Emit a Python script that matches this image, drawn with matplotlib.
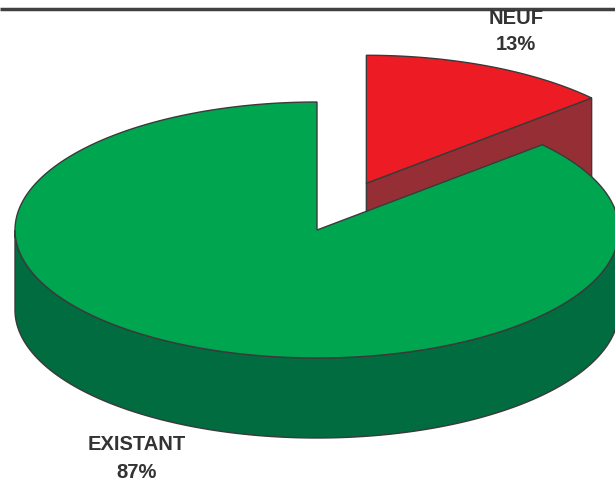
import numpy as np
import matplotlib
matplotlib.use("Agg")
import matplotlib.pyplot as plt
from matplotlib.patches import Polygon

labels = ["NEUF", "EXISTANT"]
values = [13.4, 86.6]
top_colours = ["#ED1C24", "#00A54F"]
side_colours = ["#952F35", "#006C40"]
explode = [0.40, 0.0]

EDGE = "#3A3A3A"

# pie geometry in pixel space (y grows downward)
CX, CY = 317, 230
RX, RY = 302, 128
DEPTH = 80


def pt(cx, cy, ang, dz=0):
    a = np.radians(ang)
    return cx + RX * np.cos(a), cy - RY * np.sin(a) + dz


def arc(cx, cy, a0, a1, dz=0, n=200):
    angs = np.linspace(a0, a1, n)
    return [pt(cx, cy, a, dz) for a in angs]


fig = plt.figure(figsize=(6.15, 4.83), dpi=100)
ax = fig.add_axes([0, 0, 1, 1])
ax.set_xlim(0, 615)
ax.set_ylim(483, 0)
ax.axis("off")

# slices run clockwise from 12 o'clock
total = sum(values)
starts = []
a = 90.0
for v in values:
    sweep = 360.0 * v / total
    starts.append((a - sweep, a))
    a -= sweep

# NEUF (exploded, drawn first since it sits behind)
a0, a1 = starts[0]
mid = np.radians((a0 + a1) / 2)
cx = CX + explode[0] * RX * np.cos(mid)
cy = CY - explode[0] * RY * np.sin(mid)
p0 = pt(cx, cy, a0)
face = [(cx, cy), p0, (p0[0], p0[1] + DEPTH), (cx, cy + DEPTH)]
ax.add_patch(Polygon(face, closed=True, fc=side_colours[0], ec=EDGE, lw=1.0))
top = [(cx, cy)] + arc(cx, cy, a0, a1)
ax.add_patch(Polygon(top, closed=True, fc=top_colours[0], ec=EDGE, lw=1.0))

# EXISTANT: visible outer side is the front half (180..360)
side = arc(CX, CY, 180, 360) + arc(CX, CY, 360, 180, DEPTH)
ax.add_patch(Polygon(side, closed=True, fc=side_colours[1], ec=EDGE, lw=1.0))
b0, b1 = starts[1]
top = [(CX, CY)] + arc(CX, CY, b0, b1)
ax.add_patch(Polygon(top, closed=True, fc=top_colours[1], ec=EDGE, lw=1.0))

# labels
txt = dict(ha="center", va="center", fontsize=14.5, fontweight="bold",
           color="#333333", family="Liberation Sans")
pct = [f"{round(v / total * 100):.0f}%" for v in values]
ax.text(516, 18, labels[0], **txt)
ax.text(516, 45, pct[0], **txt)
ax.text(137, 445, labels[1], **txt)
ax.text(137, 472, pct[1], **txt)

# top rule
ax.plot([0, 615], [9, 9], color="#404040", lw=2.5, solid_capstyle="butt")

fig.savefig("out.png", dpi=100)
